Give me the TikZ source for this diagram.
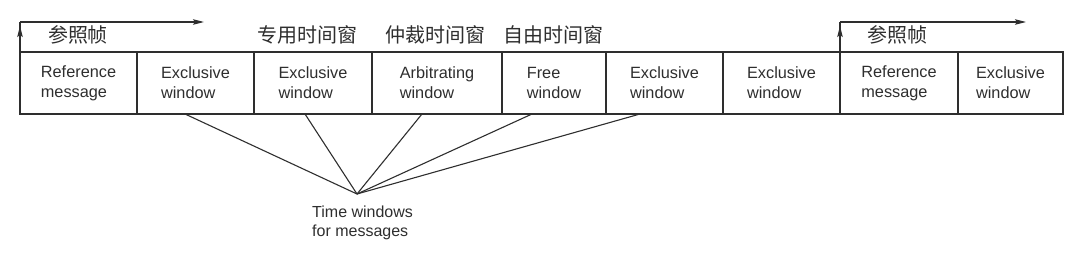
\documentclass[tikz,border=0pt]{standalone}
\usepackage{fontspec}
\setmainfont{Liberation Sans}
\newfontfamily\cjk{Noto Sans CJK SC}
\usetikzlibrary{arrows.meta}
\definecolor{ink}{HTML}{2E2E2E}
\begin{document}
\begin{tikzpicture}[x=1pt,y=-1pt,
  win/.style={draw=ink, line width=1.2pt, minimum height=62pt, inner sep=0pt, outer sep=0pt,
    anchor=west, align=left, text=ink, font=\fontsize{16.3}{20}\selectfont},
  cjklabel/.style={text=ink, inner sep=0pt, font=\cjk\fontsize{20}{22}\selectfont},
  conn/.style={draw=ink, line width=1.1pt},
  arr/.style={draw=ink, line width=1.2pt, -{Stealth[length=11pt,width=5.5pt,inset=2pt]}},
  note/.style={text=ink, inner sep=0pt, align=left, anchor=base west, font=\fontsize{16}{19}\selectfont}]
\useasboundingbox (0,0) rectangle (1080,257);
% boxes
\node[win, minimum width=117pt] (b1) at (20,83) {Reference\\message};
\node[win, minimum width=117pt] (b2) at (137,83) {Exclusive\\window};
\node[win, minimum width=118pt] (b3) at (254,83) {Exclusive\\window};
\node[win, minimum width=130pt] (b4) at (372,83) {Arbitrating\\window};
\node[win, minimum width=104pt] (b5) at (502,83) {Free\\window};
\node[win, minimum width=117pt] (b6) at (606,83) {Exclusive\\window};
\node[win, minimum width=117pt] (b7) at (723,83) {Exclusive\\window};
\node[win, minimum width=118pt] (b8) at (840,83) {Reference\\message};
\node[win, minimum width=105pt] (b9) at (958,83) {Exclusive\\window};
% chinese labels
\node[cjklabel] (l1) at (78,35) {参照帧};
\node[cjklabel] (l2) at (307,35) {专用时间窗};
\node[cjklabel] (l3) at (435,35) {仲裁时间窗};
\node[cjklabel] (l4) at (553,35) {自由时间窗};
\node[cjklabel] (l5) at (897,35) {参照帧};
% reference frame arrows
\coordinate (a1) at (20,22);
\coordinate (a1u) at (20,26);
\coordinate (a1e) at (204,22);
\draw[conn, line width=1.2pt] (b1.north west) -- (a1);
\draw[arr] (b1.north west) -- (a1u);
\draw[arr] (a1) -- (a1e);
\coordinate (a2) at (840,22);
\coordinate (a2u) at (840,26);
\coordinate (a2e) at (1026,22);
\draw[conn, line width=1.2pt] (b8.north west) -- (a2);
\draw[arr] (b8.north west) -- (a2u);
\draw[arr] (a2) -- (a2e);
% fan
\coordinate (t) at (357,194);
\draw[conn] ([xshift=-10.5pt]b2.south) -- (t);
\draw[conn] ([xshift=-8pt]b3.south) -- (t);
\draw[conn] ([xshift=-15pt]b4.south) -- (t);
\draw[conn] ([xshift=-22pt]b5.south) -- (t);
\draw[conn] ([xshift=-24.5pt]b6.south) -- (t);
\node[note] (tw) at (312,236) {Time windows\\for messages};
\end{tikzpicture}
\end{document}
